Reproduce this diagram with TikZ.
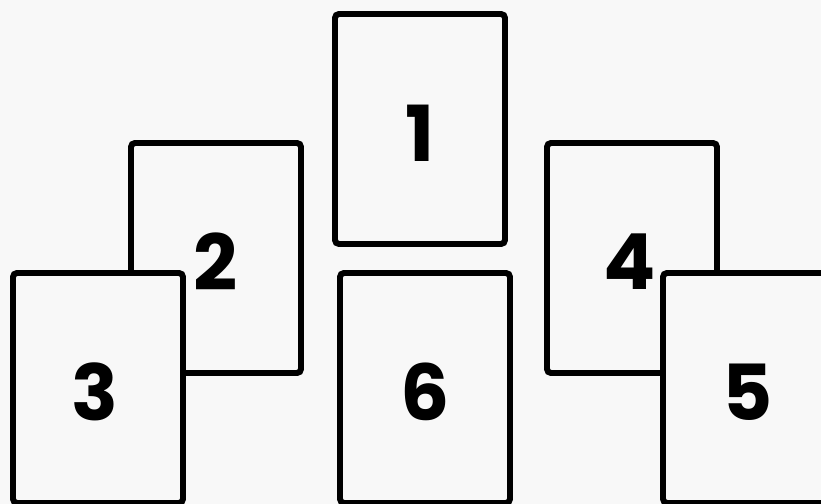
\documentclass[tikz,border=0pt]{standalone}
\usepackage{fontspec}
\setsansfont{Poppins}
\usepackage{xcolor}
\usepackage{tikz}
\usetikzlibrary{positioning}

\definecolor{paper}{RGB}{248,248,248}

\begin{document}
\begin{tikzpicture}[
    cardbox/.style={
        rectangle,
        rounded corners=0.8mm,
        draw=black,
        fill=paper,
        line width=3.4pt,
        minimum width=3.4cm,
        minimum height=4.6cm
    },
    numlabel/.style={
        font=\sffamily\bfseries\fontsize{44}{44}\selectfont,
        text=black,
        inner sep=0pt
    }
]

% Page
\fill[paper] (0,0) rectangle (16.42,10.08);
\useasboundingbox (0,0) rectangle (16.42,10.08);

% Cards
\node[cardbox] (card1) at (8.40,7.50) {};
\node[cardbox] (card2) at (4.32,4.92) {};
\node[cardbox] (card4) at (12.64,4.92) {};
\node[cardbox] (card6) at (8.50,2.32) {};
\node[cardbox] (card3) at (1.96,2.32) {};
\node[cardbox] (card5) at (14.96,2.32) {};

% Numbers
\node[numlabel] (num1) at ([yshift=-0.8mm]card1.center) {1};
\node[numlabel] (num2) at ([yshift=-0.8mm]card2.center) {2};
\node[numlabel] (num3) at ([xshift=-0.6mm, yshift=-0.8mm]card3.center) {3};
\node[numlabel] (num4) at ([xshift=-0.4mm, yshift=-0.8mm]card4.center) {4};
\node[numlabel] (num5) at ([yshift=-0.8mm]card5.center) {5};
\node[numlabel] (num6) at ([yshift=-0.8mm]card6.center) {6};

\end{tikzpicture}
\end{document}
